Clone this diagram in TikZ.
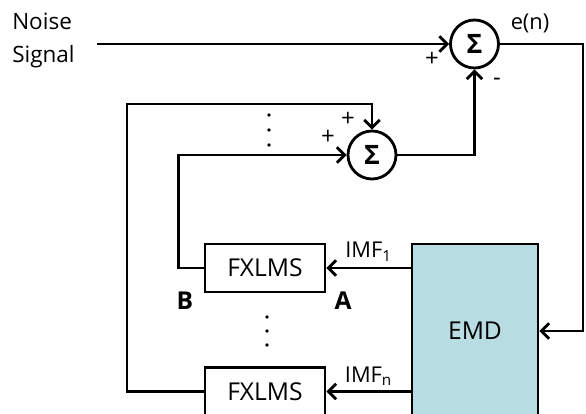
\documentclass[tikz,border=0pt]{standalone}
\usepackage{fontspec}
\setmainfont{Open Sans}
\usepackage{xcolor}
\usetikzlibrary{arrows.meta,positioning}
\definecolor{emdblue}{RGB}{183,221,227}
\tikzset{
  sumnode/.style={draw,circle,line width=2pt,minimum size=1.2cm,inner sep=0pt,font=\fontsize{19}{19}\selectfont\bfseries},
  block/.style={draw,line width=2pt,minimum width=3cm,minimum height=1.2cm,inner sep=0pt,font=\fontsize{17.5}{17.5}\selectfont},
  sig/.style={font=\fontsize{15.5}{15.5}\selectfont},
  sgn/.style={font=\fontsize{17}{17}\selectfont},
  tag/.style={font=\fontsize{17.5}{17.5}\selectfont\bfseries},
  wire/.style={line width=2pt,-{Straight Barb[length=5.5pt,width=11pt,line width=2pt]}}
}

\begin{document}
\begin{tikzpicture}[x=0.025cm,y=-0.025cm]
  \useasboundingbox (0,0) rectangle (586,414);
  % summing junctions
  \node[sumnode] (sum1) at (474.5,44) {Σ};
  \node[sumnode] (sum2) at (372,155) {Σ};
  % blocks
  \node[block] (fx1) at (265,268) {FXLMS};
  \node[block] (fx2) at (265,391.5) {FXLMS};
  \node[block,fill=emdblue,minimum width=3.15cm,minimum height=4.35cm] (emd) at (475,331) {EMD};
  \node[align=left,anchor=west,inner sep=0pt,font=\fontsize{16}{23.4}\selectfont] (noise) at (12,40) {Noise\\Signal};
  \coordinate (nin) at (97,44);
  \coordinate (corner) at (583,44);
  \coordinate (loop) at (127,104);
  % connectors
  \draw[wire] (nin) -- (sum1);
  \draw[wire] (sum1) -- (corner) |- (emd);
  \draw[wire] (sum2) -| (sum1);
  \draw[wire] (fx1.west) -- ++(-25,0) |- (sum2);
  \draw[wire] (fx2.west) -| (loop) -| (sum2);
  \draw[wire] (emd.west |- fx1) -- (fx1) node[sig,midway,above=0pt] {IMF\textsubscript{1}};
  \draw[wire] (emd.west |- fx2) -- (fx2) node[sig,midway,above=0pt] {IMF\textsubscript{n}};
  % labels
  \node[sig] (err) at (530,23) {e(n)};
  \node[sgn] (p1) at (432,59) {+};
  \node[sgn] (m1) at (497,82) {-};
  \node[sgn] (p2) at (348,119) {+};
  \node[sgn] (p3) at (328,137) {+};
  \node[tag] (tb) at (185,301) {B};
  \node[tag] (ta) at (343,301) {A};
  \foreach \y in {115,130,145}{\fill (269,\y) circle (1.9);}
  \foreach \y in {317,331,345}{\fill (267,\y) circle (1.9);}
\end{tikzpicture}
\end{document}
